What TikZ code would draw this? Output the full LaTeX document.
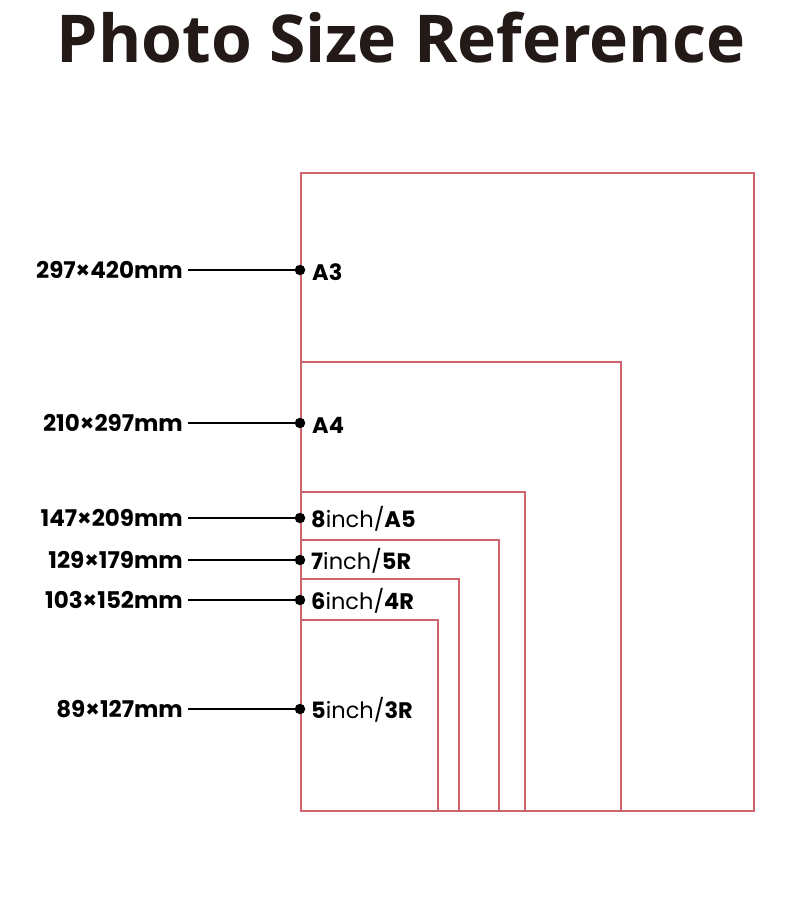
\documentclass[tikz,border=0pt]{standalone}
\usepackage{fontspec}
\setmainfont{Poppins}
\newfontfamily\titlefont{Open Sans}
\definecolor{titleink}{RGB}{35,25,22}
\definecolor{frameink}{RGB}{205,100,110}
\begin{document}
\begin{tikzpicture}[x=1pt,y=-1pt,
  frame/.style={draw=frameink,line width=1.4pt},
  lead/.style={draw=black,line width=1.1pt},
  sizelbl/.style={anchor=east,inner sep=0pt,font=\fontsize{23}{23}\selectfont\bfseries},
  namelbl/.style={anchor=west,inner sep=0pt,font=\fontsize{22.5}{22}\selectfont},
  dotc/.style={circle,fill=black,inner sep=0pt,minimum size=10.5pt}]
\useasboundingbox (0,0) rectangle (800,924);
\node[font=\titlefont\fontsize{66}{66}\selectfont\bfseries,text=titleink,inner sep=0pt] (title) at (401,38) {Photo Size Reference};
% frames
\draw[frame] (301,811) rectangle (754,173);
\draw[frame] (301,811) rectangle (621,362);
\draw[frame] (301,811) rectangle (525,492);
\draw[frame] (301,811) rectangle (499,540);
\draw[frame] (301,811) rectangle (459,579);
\draw[frame] (301,811) rectangle (438,620);
% dots
\node[dotc] (d1) at (300,270) {};
\node[dotc] (d2) at (300,423) {};
\node[dotc] (d3) at (300,518) {};
\node[dotc] (d4) at (300,560) {};
\node[dotc] (d5) at (300,600) {};
\node[dotc] (d6) at (300,709) {};
% size labels
\node[sizelbl] (s1) at (183,270) {297×420mm};
\node[sizelbl] (s2) at (183,423) {210×297mm};
\node[sizelbl] (s3) at (183,518) {147×209mm};
\node[sizelbl] (s4) at (183,560) {129×179mm};
\node[sizelbl] (s5) at (183,600) {103×152mm};
\node[sizelbl] (s6) at (183,709) {89×127mm};
% lines
\foreach \i in {1,...,6}{\draw[lead] ([xshift=5pt]s\i.east) -- (d\i.center);}
% names
\node[namelbl] (n1) at (312,272) {\bfseries A3};
\node[namelbl] (n2) at (312,425) {\bfseries A4};
\node[namelbl] (n3) at (311,519) {\bfseries 8\mdseries inch/\bfseries A5};
\node[namelbl] (n4) at (311,561) {\bfseries 7\mdseries inch/\bfseries 5R};
\node[namelbl] (n5) at (311,601) {\bfseries 6\mdseries inch/\bfseries 4R};
\node[namelbl] (n6) at (311,710) {\bfseries 5\mdseries inch/\bfseries 3R};
\end{tikzpicture}
\end{document}
